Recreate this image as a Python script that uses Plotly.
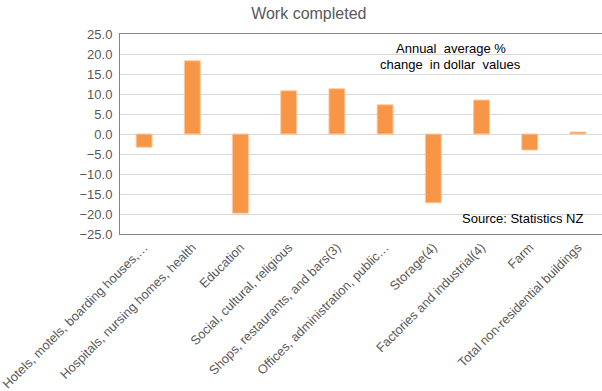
import plotly.graph_objects as go

categories = ["Hotels, motels, boarding houses,…", "Hospitals, nursing homes, health", "Education",
              "Social, cultural, religious", "Shops, restaurants, and bars(3)",
              "Offices, administration, public…", "Storage(4)", "Factories and industrial(4)",
              "Farm", "Total non-residential buildings"]
values = [-3.3, 18.3, -19.8, 10.8, 11.3, 7.3, -17.2, 8.5, -4.0, 0.5]
yticks = [25, 20, 15, 10, 5, 0, -5, -10, -15, -20, -25]

fig = go.Figure(go.Bar(x=categories, y=values, marker=dict(color="#F79646", line=dict(color="#FBC9A0", width=1)),
                       width=0.33))

fig.update_layout(
    width=602, height=391,
    margin=dict(l=120, r=0, t=34, b=157, autoexpand=False),
    paper_bgcolor="white", plot_bgcolor="white",
    font=dict(family="Liberation Sans, Arial", color="#595959", size=12),
    title=dict(text="Work completed", x=0.513, xanchor="center", y=0.967, yanchor="middle",
               font=dict(size=16, color="#595959")),
    showlegend=False,
    xaxis=dict(tickangle=-45, showline=True, linecolor="#858585", linewidth=1, mirror=True,
               ticks="", tickfont=dict(size=12.8, color="#595959"), range=[-0.5, 9.5], automargin=False),
    yaxis=dict(range=[-25, 25], tickvals=yticks, tickformat=".1f", showgrid=True, gridcolor="#D9D9D9",
               zeroline=True, zerolinecolor="#D9D9D9", zerolinewidth=1,
               showline=True, linecolor="#858585", linewidth=1, automargin=False,
               tickfont=dict(size=13, color="#595959"), ticks="", ticklabelstandoff=4),
    annotations=[
        dict(text="Annual  average %", xref="paper", yref="paper",
             x=0.686, y=0.925, xanchor="center", yanchor="middle", showarrow=False,
             font=dict(size=13, color="#000000")),
        dict(text="change  in dollar  values", xref="paper", yref="paper",
             x=0.686, y=0.85, xanchor="center", yanchor="middle", showarrow=False,
             font=dict(size=13, color="#000000")),
        dict(text="Source: Statistics NZ", xref="paper", yref="paper", x=0.965, y=0.08,
             xanchor="right", yanchor="middle", showarrow=False, font=dict(size=13, color="#000000")),
    ],
)
fig.write_html("out.html")
